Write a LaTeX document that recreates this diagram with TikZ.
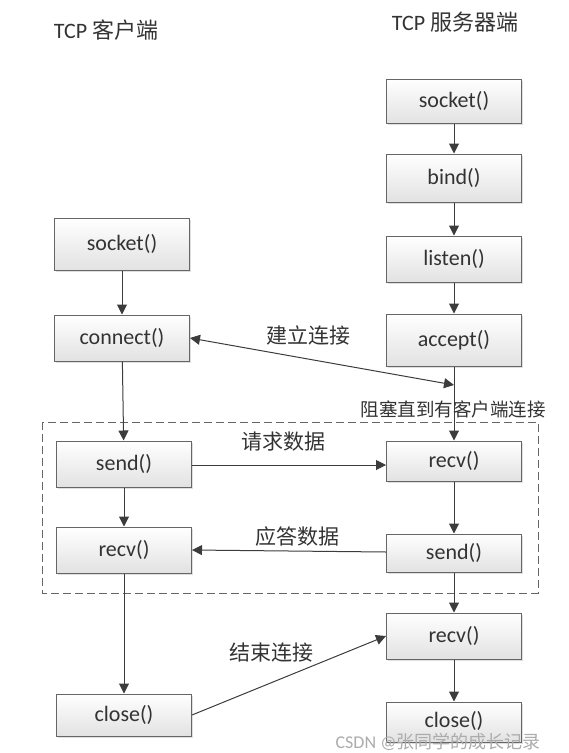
\documentclass[tikz,border=0pt]{standalone}
\usepackage{fontspec}
\setmainfont{Carlito}
\newfontfamily\cjk{Noto Sans CJK SC}
\usetikzlibrary{arrows.meta,shadows}
\definecolor{lgray}{HTML}{E2E2E2}
\definecolor{bgray}{HTML}{666666}
\definecolor{agray}{HTML}{3C3C3C}
\definecolor{tgray}{HTML}{333333}
\tikzset{
  % call box: white-to-gray shading, dark gray frame
  fn/.style   = {rectangle, draw=bgray, top color=white, bottom color=lgray,
                 line width=1pt, minimum width=135pt, minimum height=46pt,
                 inner sep=0pt, font=\fontsize{22}{26}\selectfont, text=tgray,
                 drop shadow={shadow xshift=1.5pt, shadow yshift=-1.5pt, opacity=0.25}},
  flow/.style = {-{Triangle[length=10pt, width=10pt]}, line width=1pt, agray},
  twoway/.style = {{Triangle[length=10pt, width=10pt]}-{Triangle[length=10pt, width=10pt]},
                 line width=1pt, agray},
  lbl/.style  = {font=\cjk\fontsize{21}{25}\selectfont, text=tgray, inner sep=0pt},
  ttl/.style  = {font=\fontsize{22}{26}\selectfont, text=tgray, inner sep=0pt},
}
\begin{document}
\begin{tikzpicture}[x=1pt,y=-1pt]
\useasboundingbox (0,0) rectangle (569,753);
% titles
\node[ttl] (tcli) at (106,30) {TCP {\cjk 客户端}};
\node[ttl] (tsrv) at (455,22) {TCP {\cjk 服务器端}};
% client side
\node[fn, minimum height=52pt] (csock) at (122,244) {socket()};
\node[fn] (cconn)  at (122,338) {connect()};
\node[fn] (csend)  at (124,464) {send()};
\node[fn] (crecv)  at (124,550) {recv()};
\node[fn, minimum height=42pt] (cclose) at (124,715) {close()};
% server side
\node[fn, minimum height=44pt] (ssock)   at (454,101) {socket()};
\node[fn, minimum height=48pt] (sbind)   at (454,178) {bind()};
\node[fn] (slisten) at (454,259) {listen()};
\node[fn, minimum height=52pt] (saccept) at (454,340) {accept()};
\node[fn, minimum height=40pt] (srecv)   at (454,461) {recv()};
\node[fn, minimum height=38pt] (ssend)   at (454,553) {send()};
\node[fn] (srecvb)  at (454,636) {recv()};
\node[fn, minimum height=40pt] (sclose)  at (454,722) {\raisebox{5pt}{close()}};
% request / reply block
\draw[dashed, dash pattern=on 8pt off 4pt, line width=1pt, bgray]
  (42,422) rectangle (538,593);
% client flow
\draw[flow] (csock) -- (cconn);
\draw[flow] (cconn) -- (csend);
\draw[flow] (csend) -- (crecv);
\draw[flow] (crecv) -- (cclose);
% server flow
\draw[flow] (ssock) -- (sbind);
\draw[flow] (sbind) -- (slisten);
\draw[flow] (slisten) -- (saccept);
\draw[flow] (saccept) -- (srecv);
\draw[flow] (srecv) -- (ssend);
\draw[flow] (ssend) -- (srecvb);
\draw[flow] (srecvb) -- (sclose);
% handshake
\coordinate (wait) at (454,385);
\draw[twoway] (cconn.east) -- (wait);
\node[lbl] (lconn) at (308,335) {建立连接};
\node[lbl, font=\cjk\fontsize{18.5}{22}\selectfont] (lwait) at (453,409) {阻塞直到有客户端连接};
% data exchange
\draw[flow] (csend.east |- 0,465) -- (srecv.west |- 0,465);
\node[lbl] (lreq) at (283,442) {请求数据};
\draw[flow] (ssend.west |- 0,552) -- (crecv.west -| crecv.east);
\node[lbl] (lrep) at (297,537) {应答数据};
% close
\draw[flow] (cclose.east) -- (srecvb.west);
\node[lbl] (lfin) at (271,653) {结束连接};
% watermark
\node[lbl, text=gray!65, font=\fontsize{18}{20}\selectfont] (mark) at (438,742)
  {CSDN @{\cjk 张同学的成长记录}};
\end{tikzpicture}
\end{document}
